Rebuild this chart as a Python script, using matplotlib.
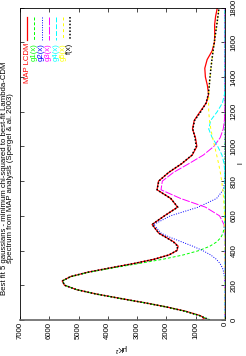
"""
Best fit of 5 gaussians to the MAP best-fit Lambda-CDM spectrum.
Drawn in portrait: the l axis runs upwards, the power axis runs right to left.
"""

import matplotlib
matplotlib.use("Agg")
import matplotlib.pyplot as plt
from matplotlib.lines import Line2D

plt.rcParams["font.family"] = ["Liberation Sans", "DejaVu Sans"]

# ---------------------------------------------------------------------------
# Data
# ---------------------------------------------------------------------------

l_map = [2, 10, 25, 50, 75, 100, 125, 150, 175, 200, 225, 250, 275, 300, 325,
         350, 375, 400, 425, 450, 475, 500, 550, 600, 650, 700, 750, 800, 850,
         900, 950, 1000, 1050, 1100, 1150, 1200, 1250, 1300, 1350, 1400, 1450,
         1500, 1550, 1600, 1650, 1700, 1750, 1800]
map_lcdm = [780, 700, 840, 1330, 1990, 2760, 3600, 4400, 5070, 5480, 5560,
            5280, 4690, 3920, 3120, 2420, 1910, 1640, 1600, 1750, 2000, 2260,
            2490, 2070, 1620, 1850, 2320, 2270, 1920, 1480, 1120, 960, 1010,
            1110, 1050, 850, 640, 560, 600, 670, 690, 610, 440, 360, 350, 355,
            320, 260]

l_fit = [0, 25, 50, 75, 100, 125, 150, 175, 200, 225, 250, 275, 300, 325, 350,
         375, 400, 425, 450, 475, 500, 550, 600, 650, 700, 750, 800, 850, 900,
         950, 1000, 1050, 1100, 1150, 1200, 1250, 1300, 1350, 1400, 1450, 1500,
         1550, 1600, 1650, 1700, 1750, 1800]
g1 = [517, 864, 1356, 2000, 2772, 3609, 4413, 5069, 5471, 5545, 5253, 4644,
      3830, 2948, 2118, 1418, 887, 517, 282, 143, 68, 12, 0, 0, 0, 0, 0, 0, 0,
      0, 0, 0, 0, 0, 0, 0, 0, 0, 0, 0, 0, 0, 0, 0, 0, 0, 0]
g2 = [0, 0, 0, 0, 0, 0, 0, 0, 3, 8, 20, 43, 88, 167, 297, 492, 761, 1099,
      1480, 1860, 2181, 2435, 1864, 915, 288, 58, 8, 0, 0, 0, 0, 0, 0, 0, 0,
      0, 0, 0, 0, 0, 0, 0, 0, 0, 0, 0, 0]
g3 = [0, 0, 0, 0, 0, 0, 0, 0, 0, 0, 0, 0, 0, 0, 0, 0, 0, 0, 0, 0, 4, 33, 186,
      667, 1516, 2185, 2140, 1760, 1240, 740, 380, 165, 60, 20, 5, 0, 0, 0, 0,
      0, 0, 0, 0, 0, 0, 0, 0]
g4 = [0, 0, 0, 0, 0, 0, 0, 0, 0, 0, 0, 0, 0, 0, 0, 0, 0, 0, 0, 0, 0, 0, 0, 0,
      0, 0, 0, 7, 31, 103, 249, 437, 555, 487, 265, 89, 18, 2, 0, 0, 0, 0, 0,
      0, 0, 0, 0]
g5 = [0, 0, 0, 0, 0, 0, 0, 0, 0, 0, 0, 0, 0, 0, 0, 0, 2, 2, 3, 4, 5, 10, 18,
      30, 49, 76, 113, 160, 218, 284, 354, 423, 484, 530, 556, 559, 551, 535,
      512, 481, 446, 407, 365, 323, 281, 241, 203]
f_fit = [517, 864, 1356, 2000, 2772, 3609, 4413, 5069, 5474, 5553, 5273, 4687,
         3918, 3115, 2415, 1910, 1650, 1616, 1765, 2006, 2258, 2490, 2068,
         1612, 1853, 2319, 2261, 1927, 1489, 1127, 983, 1025, 1099, 1037, 826,
         648, 569, 537, 512, 481, 446, 407, 365, 323, 281, 241, 203]

power_ticks = [0, 1000, 2000, 3000, 4000, 5000, 6000, 7000]
l_ticks = [0, 200, 400, 600, 800, 1000, 1200, 1400, 1600, 1800]

title_lines = ["Best fit 5 gaussians - minimum chi-squared to best-fit Lambda-CDM",
               "spectrum from MAP analysis (Spergel & al. 2003)"]

# ---------------------------------------------------------------------------
# Figure
# ---------------------------------------------------------------------------

W, H = 246, 356
FS = 5.6


def fx(px):
    return px / W


def fy(py):
    return 1 - py / H


fig = plt.figure(figsize=(W / 100, H / 100), dpi=100)
ax = fig.add_axes([fx(20), fy(320), 205 / W, 312.5 / H])

series = [
    ("MAP LCDM", l_map, map_lcdm, "#ff0000", "-", 0.9),
    ("g1(x)", l_fit, g1, "#00ff00", (0, (3, 2)), 0.7),
    ("g2(x)", l_fit, g2, "#0000ff", (0, (1, 1.5)), 0.7),
    ("g3(x)", l_fit, g3, "#ff00ff", (0, (8, 1.5)), 0.7),
    ("g4(x)", l_fit, g4, "#00ffff", (0, (5, 2)), 0.7),
    ("g5(x)", l_fit, g5, "#ffff00", (0, (3, 3)), 0.7),
    ("f(x)", l_fit, f_fit, "#000000", (0, (1, 1.2)), 1.1),
]

for name, ll, vals, col, ls, lw in series:
    ax.plot(vals, ll, color=col, ls=ls, lw=lw)

ax.set_xlim(7000, 0)
ax.set_ylim(0, 1800)
ax.set_xticks(power_ticks)
ax.set_yticks(l_ticks)
ax.tick_params(direction="in", length=3, width=0.5, labelsize=FS,
               top=True, bottom=True, left=True, right=True,
               labelleft=False, labelright=True)
ax.tick_params(axis="x", pad=1.5, labelrotation=90)
ax.tick_params(axis="y", pad=4, labelrotation=90)
for lab in ax.get_yticklabels():
    lab.set_va("center")
    lab.set_ha("left")
for sp in ax.spines.values():
    sp.set_linewidth(0.6)
ax.spines["bottom"].set_color("#666666")
ax.spines["bottom"].set_linewidth(1.2)

# title and axis labels (rotated with the plot)
fig.text(fx(4.5), 0.5, title_lines[0], rotation=90, ha="center", va="center",
         fontsize=FS)
fig.text(fx(11), 0.5, title_lines[1], rotation=90, ha="center", va="center",
         fontsize=FS)
fig.text(fx(120), fy(348), "\u03bcK\u00b2", rotation=180, ha="center",
         va="center", fontsize=FS)
fig.text(fx(241), fy(163), "l", rotation=90, ha="center", va="center",
         fontsize=FS)

# key, one column per entry
for i, (name, ll, vals, col, ls, lw) in enumerate(series):
    xk = 27.3 + 7.1 * i
    fig.add_artist(Line2D([fx(xk), fx(xk)], [fy(17), fy(40)], color=col,
                          ls=ls, lw=lw, transform=fig.transFigure))
    fig.text(fx(xk), fy(43), name, rotation=90, rotation_mode="anchor",
             ha="right", va="center", color=col, fontsize=FS)

fig.savefig("out.png", dpi=100)
